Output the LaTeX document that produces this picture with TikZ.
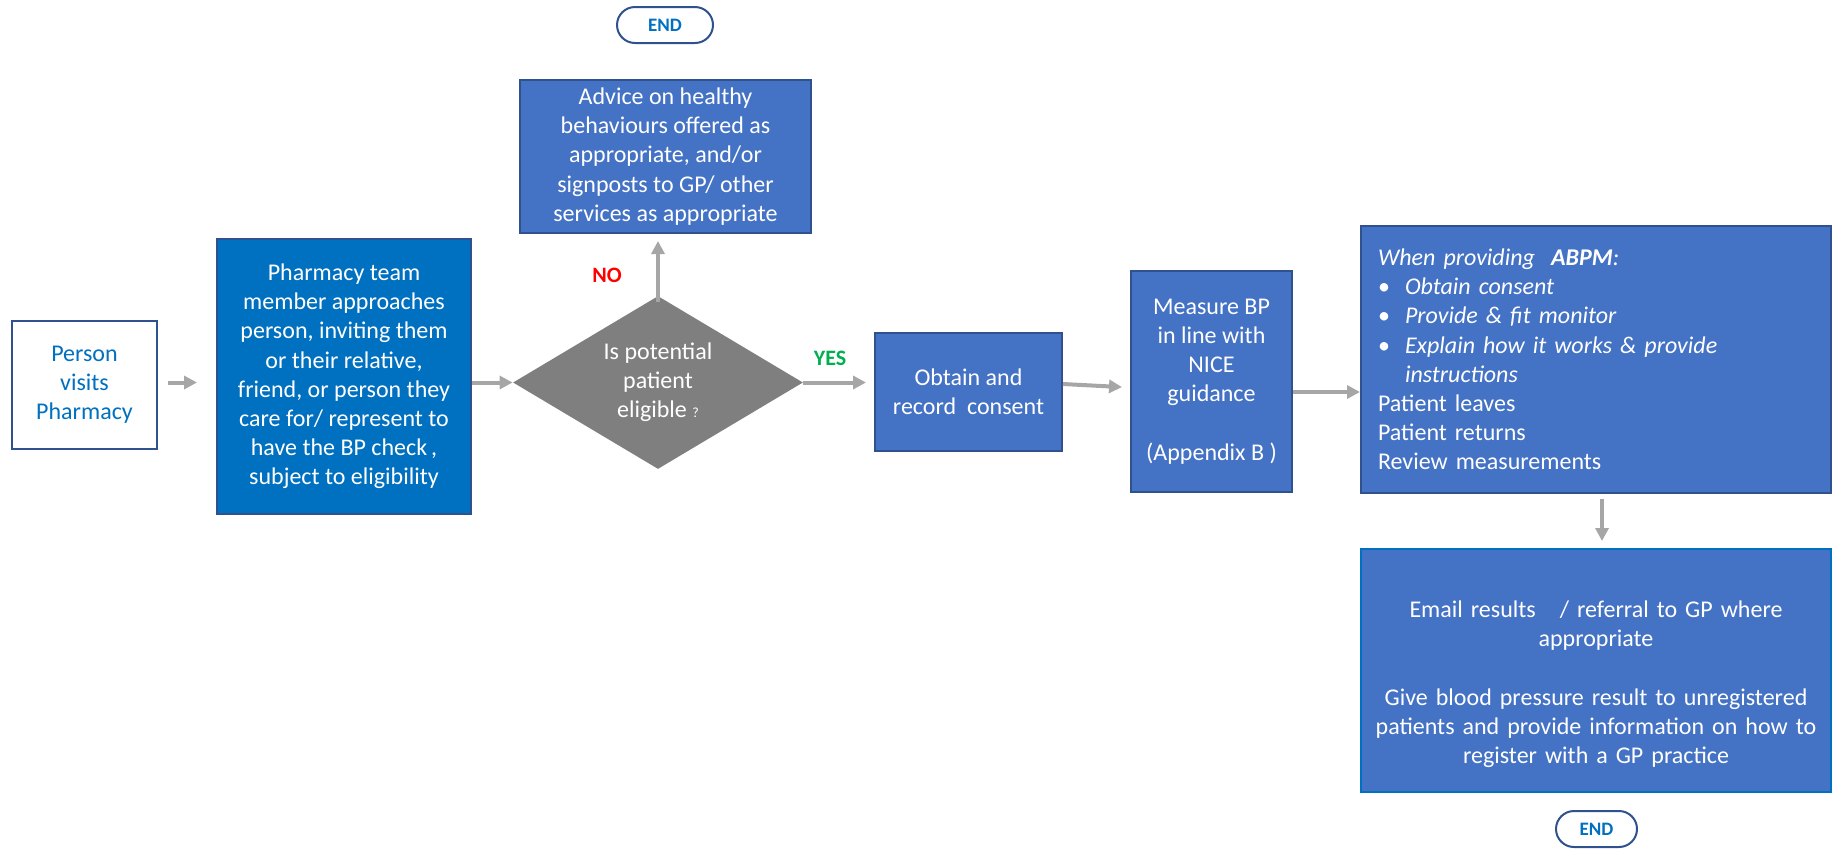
\documentclass[tikz,border=0pt]{standalone}
\usepackage{fontspec}
\setmainfont{Carlito}
\usetikzlibrary{arrows.meta}
\usetikzlibrary{shapes.geometric}
\definecolor{boxblue}{HTML}{4472C4}
\definecolor{deepblue}{HTML}{0070C0}
\definecolor{edgeblue}{HTML}{2F528F}
\definecolor{arrowgrey}{HTML}{A6A6A6}
\definecolor{choicegrey}{HTML}{7F7F7F}
\definecolor{nored}{HTML}{FF0000}
\definecolor{yesgreen}{HTML}{00B050}

\begin{document}
\begin{tikzpicture}[x=1pt,y=-1pt,>={Triangle[length=6.5pt,width=6.5pt]},
  box/.style={rectangle,draw=edgeblue,line width=1pt,fill=boxblue,text=white,align=center,inner sep=0pt,font=\fontsize{12}{14.6}\selectfont},
  decision/.style={diamond,aspect=1.68,fill=choicegrey,text=white,align=center,inner sep=0pt,font=\fontsize{12}{14.6}\selectfont},
  endpill/.style={rectangle,rounded corners=9pt,draw=edgeblue,line width=1pt,fill=white,text=deepblue,minimum height=18pt,inner sep=0pt,font=\fontsize{9.5}{11}\selectfont\bfseries},
  answer/.style={font=\fontsize{11}{13}\selectfont\bfseries},
  flow/.style={->,draw=arrowgrey,line width=2pt}]

\useasboundingbox (0,0) rectangle (916,424);

\node [box,fill=white,text=deepblue,minimum width=72.5pt,minimum height=64pt] (person) at (42.25,192.5) {Person\\visits\\Pharmacy};
\node [box,fill=deepblue,minimum width=127pt,minimum height=137.5pt] (team) at (172,188.25) {Pharmacy team\\member approaches\\person, inviting them\\or their relative,\\friend, or person they\\care for/ represent to\\have the BP check\,,\\subject to eligibility};
\node [decision,minimum width=145pt,minimum height=86.5pt] (eligible) at (329,191.25) {Is potential\\patient\\eligible {\fontsize{7}{8}\selectfont ?}};
\node [box,minimum width=145.5pt,minimum height=76.5pt] (advice) at (332.75,78.25) {Advice on healthy\\behaviours offered as\\appropriate, and/or\\signposts to GP/ other\\services as appropriate};
\node [endpill,minimum width=48pt] (endtop) at (332.5,12.5) {END};
\node [answer,text=nored] (no) at (303.5,137.5) {NO};
\node [answer,text=yesgreen] (yes) at (415,179) {YES};
\node [box,minimum width=93.5pt,minimum height=59pt] (consent) at (484.25,196) {Obtain and\\record\ \ consent};
\node [box,minimum width=80.5pt,minimum height=110.5pt] (measure) at (605.75,190.75) {Measure BP\\in line with\\NICE\\guidance\\[14.6pt](Appendix B )};
\node [box,align=left,text width=218pt,inner xsep=8.5pt,minimum height=133.5pt] (abpm) at (798,179.75) {\textit{When providing\ \ \textbf{ABPM}:}\\
  \makebox[13.5pt][l]{\textbullet}\textit{Obtain consent}\\
  \makebox[13.5pt][l]{\textbullet}\textit{Provide \& fit monitor}\\
  \makebox[13.5pt][l]{\textbullet}\textit{Explain how it works \& provide}\\
  \hspace*{13.5pt}\textit{instructions}\\
  Patient leaves\\
  Patient returns\\
  Review measurements};
\node [box,draw=deepblue,text width=225pt,inner xsep=5pt,minimum height=121.5pt] (email) at (798,335.25) {\rule{0pt}{22pt}Email results\quad/ referral to GP where\\appropriate\\[14.6pt]Give blood pressure result to unregistered\\patients and provide information on how to\\register with a GP practice};
\node [endpill,minimum width=40.5pt] (endbottom) at (798.25,414.5) {END};

\draw [flow,shorten <=5pt,shorten >=9.5pt] (person.east |- eligible.west) -- (team.west |- eligible.west);
\draw [flow] (team.east |- eligible.west) -- (eligible.west);
\draw [flow,shorten <=-3pt,shorten >=3.5pt] (eligible.north) -- (advice.south -| eligible.north);
\draw [flow,shorten >=4pt] (eligible.east) -- (consent.west |- eligible.east);
\draw [flow,shorten >=4pt] ([yshift=4pt]consent.east) -- ([yshift=-3pt]measure.west);
\draw [flow] (measure.east |- consent.center) -- (abpm.west |- consent.center);
\draw [flow,shorten <=2.5pt,shorten >=3.5pt] ([xshift=3pt]abpm.south) -- ([xshift=3pt]email.north);

\end{tikzpicture}
\end{document}
